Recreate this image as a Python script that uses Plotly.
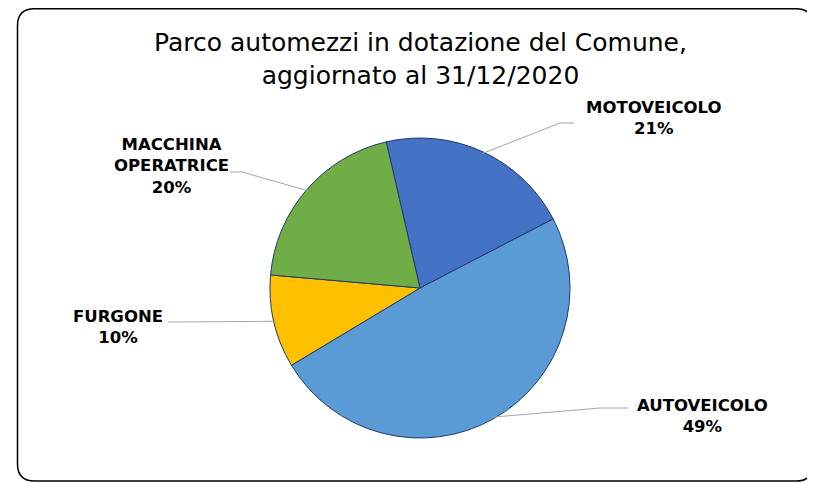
import math
import plotly.graph_objects as go

# ---- data ----
labels = ["MOTOVEICOLO", "AUTOVEICOLO", "FURGONE", "MACCHINA OPERATRICE"]
values = [21, 49, 10, 20]
colors = ["#4472C4", "#5B9BD5", "#FFC000", "#70AD47"]
title_text = "Parco automezzi in dotazione del Comune,<br>aggiornato al 31/12/2020"

W, H = 815, 483
OFF = 8  # page body margin offset in the screenshot


def px(x):
    return (x - OFF) / W


def py(y):
    return 1 - (y - OFF) / H


# pie geometry (screen pixels)
CX, CY, R = 420, 288, 150
ROT = -13

fig = go.Figure(go.Pie(
    labels=labels, values=values, sort=False, direction="clockwise", rotation=ROT,
    marker=dict(colors=colors, line=dict(color="#1F3A6E", width=1)),
    textinfo="none", automargin=False,
    domain=dict(x=[px(CX - R), px(CX + R)], y=[py(CY + R), py(CY - R)]),
    showlegend=False, hoverinfo="label+percent",
))

# label blocks (centres) and leader-line text ends, in screen pixels
label_pos = [(654, 118), (702, 416), (118, 327), (171, 166)]
leader_start = [[(574, 123), (560, 123)], [(628, 408), (600, 408)],
                [(168, 322), (180, 322)], [(230, 172), (242, 172)]]

total = sum(values)
annotations = []
shapes = []
cum = 0.0
for i, (lab, v) in enumerate(zip(labels, values)):
    mid = ROT + 360 * (cum + v / 2) / total
    cum += v
    a = math.radians(mid)
    tx, ty = CX + (R - 2) * math.sin(a), CY - (R - 2) * math.cos(a)
    pts = leader_start[i] + [(tx, ty)]
    path = "M " + " L ".join(f"{px(x):.5f},{py(y):.5f}" for x, y in pts)
    shapes.append(dict(type="path", xref="paper", yref="paper", path=path,
                       line=dict(color="#A6A6A6", width=1)))
    pct = f"{round(100 * v / total)}%"
    txt = "<b>" + lab.replace(" ", "<br>") + "<br>" + pct + "</b>"
    lx, ly = label_pos[i]
    annotations.append(dict(text=txt, x=px(lx), y=py(ly), xref="paper", yref="paper",
                            xanchor="center", yanchor="middle", showarrow=False, align="center",
                            font=dict(family="DejaVu Sans", size=16.5, color="#000000")))

annotations.append(dict(text=title_text, x=px(421), y=py(26), xref="paper", yref="paper",
                        xanchor="center", yanchor="top", showarrow=False, align="center",
                        font=dict(family="DejaVu Sans", size=25, color="#000000")))

# rounded frame
x0, x1, y0, y1, rr = 17.5, 813, 8.7, 481, 17
frame = (f"M {px(x0 + rr)},{py(y0)} L {px(x1 - rr)},{py(y0)} "
         f"Q {px(x1)},{py(y0)} {px(x1)},{py(y0 + rr)} "
         f"L {px(x1)},{py(y1 - rr)} Q {px(x1)},{py(y1)} {px(x1 - rr)},{py(y1)} "
         f"L {px(x0 + rr)},{py(y1)} Q {px(x0)},{py(y1)} {px(x0)},{py(y1 - rr)} "
         f"L {px(x0)},{py(y0 + rr)} Q {px(x0)},{py(y0)} {px(x0 + rr)},{py(y0)} Z")
shapes.append(dict(type="path", xref="paper", yref="paper", path=frame,
                   line=dict(color="#000000", width=1.5), fillcolor="rgba(0,0,0,0)"))

fig.update_layout(
    width=W, height=H, autosize=False,
    margin=dict(l=0, r=0, t=0, b=0, pad=0, autoexpand=False),
    paper_bgcolor="white",
    annotations=annotations,
    shapes=shapes,
)

fig.write_html("out.html")
